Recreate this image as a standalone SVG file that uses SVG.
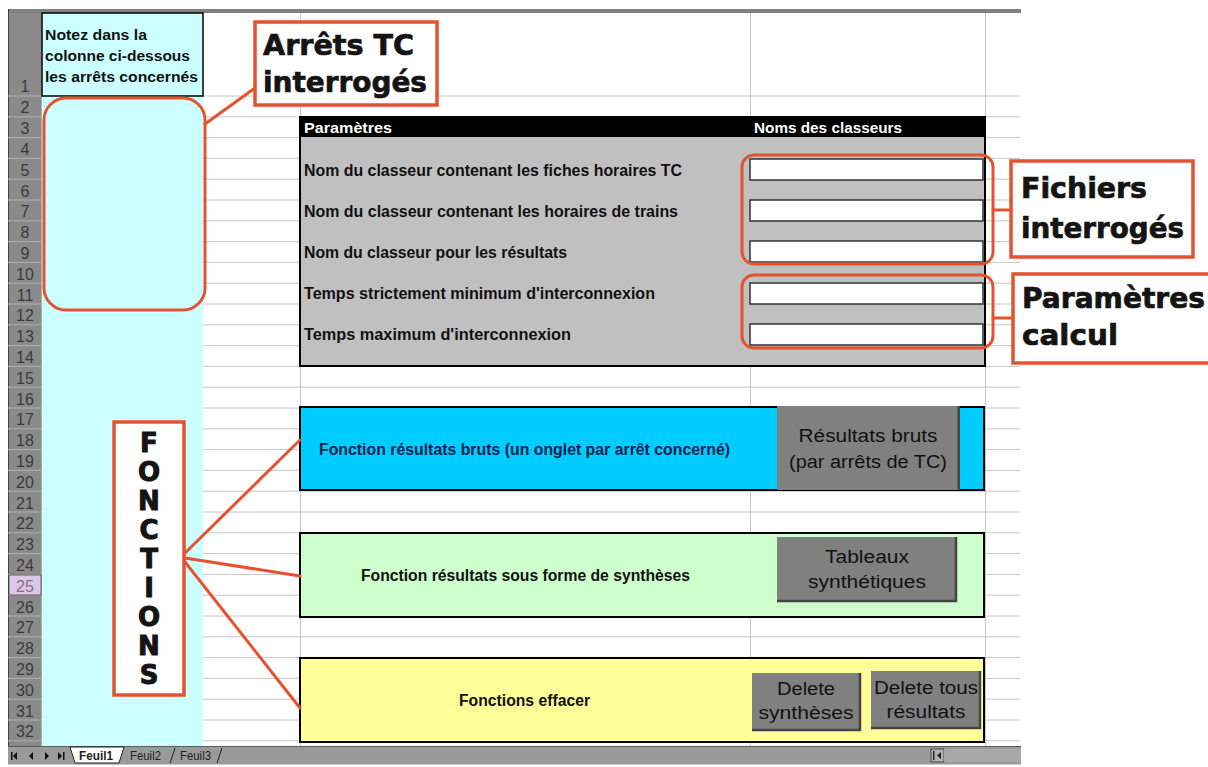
<svg xmlns="http://www.w3.org/2000/svg" width="1208" height="767" viewBox="0 0 1208 767">
<style>
.rn{font-family:"Liberation Sans",Arial,sans-serif;font-size:16px;fill:#3a3a3a;text-anchor:middle}
.lbl{font-family:"Liberation Sans",Arial,sans-serif;font-size:16px;font-weight:bold;fill:#111}
.hd{font-family:"Liberation Sans",Arial,sans-serif;font-size:15px;font-weight:bold;fill:#fff}
.a1{font-family:"Liberation Sans",Arial,sans-serif;font-size:14px;font-weight:bold;fill:#111}
.call{font-family:"DejaVu Sans",sans-serif;font-weight:bold;font-size:28px;fill:#141414;stroke:#141414;stroke-width:0.7}
.fl{font-family:"DejaVu Sans",sans-serif;font-weight:bold;font-size:26px;fill:#141414;stroke:#141414;stroke-width:1;text-anchor:middle}
.bt{font-family:"Liberation Sans",Arial,sans-serif;font-size:18px;fill:#111;text-anchor:middle}
.btn{fill:#808080}
.edge{fill:none;stroke:#444;stroke-width:2.5}
.or{fill:none;stroke:#e5522f;stroke-width:3}
.cbox{fill:#fff;stroke:#e5522f;stroke-width:3.5}
.grid{fill:none;stroke:#c6c6c6;stroke-width:1}
.inp{fill:#fff;stroke:#333;stroke-width:1.5}
.tab{font-family:"Liberation Sans",Arial,sans-serif;font-size:12px;fill:#222}
</style>

<g id="sheet">
  <rect x="0" y="0" width="1208" height="767" fill="#fff"/>
  <rect x="8" y="9" width="1013" height="4" fill="#808080"/>
  <rect x="8" y="13" width="34" height="734" fill="#8a8a8a"/>
  <line x1="8.5" y1="9" x2="8.5" y2="747" stroke="#404040" stroke-width="1"/>
  <rect x="42" y="13" width="161" height="734" fill="#ccffff"/>
  <path class="grid" d="M203 96H1020M203 116.8H1020M203 137.6H1020M203 158.4H1020M203 179.2H1020M203 200H1020M203 220.8H1020M203 241.6H1020M203 262.4H1020M203 283.2H1020M203 304H1020M203 324.8H1020M203 345.6H1020M203 366.4H1020M203 387.2H1020M203 408H1020M203 428.8H1020M203 449.6H1020M203 470.4H1020M203 491.2H1020M203 512H1020M203 532.8H1020M203 553.6H1020M203 574.4H1020M203 595.2H1020M203 616H1020M203 636.8H1020M203 657.6H1020M203 678.4H1020M203 699.2H1020M203 720H1020M203 740.8H1020"/>
  <path class="grid" d="M300.5 13V746M750.5 13V746M985.5 13V746"/>
  <path fill="none" stroke="#b0b0b0" stroke-width="1" d="M8 96H42M8 116.8H42M8 137.6H42M8 158.4H42M8 179.2H42M8 200H42M8 220.8H42M8 241.6H42M8 262.4H42M8 283.2H42M8 304H42M8 324.8H42M8 345.6H42M8 366.4H42M8 387.2H42M8 408H42M8 428.8H42M8 449.6H42M8 470.4H42M8 491.2H42M8 512H42M8 532.8H42M8 553.6H42M8 574.4H42M8 595.2H42M8 616H42M8 636.8H42M8 657.6H42M8 678.4H42M8 699.2H42M8 720H42M8 740.8H42"/>
  <line x1="41.5" y1="13" x2="41.5" y2="746" stroke="#b0b0b0"/>
  <rect x="9" y="575" width="32" height="20" fill="#dcc8e4" stroke="#503a5a" stroke-width="0.8"/>
  <g class="rn">
    <text x="25" y="92">1</text>
    <text x="25" y="113.3">2</text>
    <text x="25" y="134.1">3</text>
    <text x="25" y="154.9">4</text>
    <text x="25" y="175.7">5</text>
    <text x="25" y="196.5">6</text>
    <text x="25" y="217.3">7</text>
    <text x="25" y="238.1">8</text>
    <text x="25" y="258.9">9</text>
    <text x="25" y="279.7">10</text>
    <text x="25" y="300.5">11</text>
    <text x="25" y="321.3">12</text>
    <text x="25" y="342.1">13</text>
    <text x="25" y="362.9">14</text>
    <text x="25" y="383.7">15</text>
    <text x="25" y="404.5">16</text>
    <text x="25" y="425.3">17</text>
    <text x="25" y="446.1">18</text>
    <text x="25" y="466.9">19</text>
    <text x="25" y="487.7">20</text>
    <text x="25" y="508.5">21</text>
    <text x="25" y="529.3">22</text>
    <text x="25" y="550.1">23</text>
    <text x="25" y="570.9">24</text>
    <text x="25" y="591.7" fill="#8a6a92">25</text>
    <text x="25" y="612.5">26</text>
    <text x="25" y="633.3">27</text>
    <text x="25" y="654.1">28</text>
    <text x="25" y="674.9">29</text>
    <text x="25" y="695.7">30</text>
    <text x="25" y="716.5">31</text>
    <text x="25" y="737.3">32</text>
  </g>
</g>

<g id="cellA1">
  <rect x="42" y="13" width="161" height="83" fill="#ccffff" stroke="#000" stroke-width="1.5"/>
  <text class="a1" x="45" y="40" textLength="102" lengthAdjust="spacingAndGlyphs">Notez dans la</text>
  <text class="a1" x="45" y="61" textLength="145" lengthAdjust="spacingAndGlyphs">colonne ci-dessous</text>
  <text class="a1" x="45" y="82" textLength="153" lengthAdjust="spacingAndGlyphs">les arrêts concernés</text>
</g>

<g id="stops-zone">
  <rect class="or" x="44" y="98" width="161" height="212" rx="22"/>
</g>

<g id="params-table">
  <rect x="300" y="117" width="685" height="249" fill="#c0c0c0" stroke="#000" stroke-width="2"/>
  <rect x="300" y="117" width="685" height="20" fill="#000"/>
  <text class="hd" x="304" y="133" textLength="88" lengthAdjust="spacingAndGlyphs">Paramètres</text>
  <text class="hd" x="754" y="133" textLength="148" lengthAdjust="spacingAndGlyphs">Noms des classeurs</text>
  <text class="lbl" x="304" y="176" textLength="378" lengthAdjust="spacingAndGlyphs">Nom du classeur contenant les fiches horaires TC</text>
  <text class="lbl" x="304" y="217" textLength="374" lengthAdjust="spacingAndGlyphs">Nom du classeur contenant les horaires de trains</text>
  <text class="lbl" x="304" y="258" textLength="263" lengthAdjust="spacingAndGlyphs">Nom du classeur pour les résultats</text>
  <text class="lbl" x="304" y="299" textLength="351" lengthAdjust="spacingAndGlyphs">Temps strictement minimum d'interconnexion</text>
  <text class="lbl" x="304" y="340" textLength="267" lengthAdjust="spacingAndGlyphs">Temps maximum d'interconnexion</text>
  <rect class="inp" x="750" y="159" width="233" height="21"/>
  <rect class="inp" x="750" y="200" width="233" height="21"/>
  <rect class="inp" x="750" y="241" width="233" height="21"/>
  <rect class="inp" x="750" y="283" width="233" height="21"/>
  <rect class="inp" x="750" y="324" width="233" height="21"/>
  <rect class="or" x="742" y="155" width="251" height="109" rx="12"/>
  <rect class="or" x="742" y="275" width="251" height="73" rx="12"/>
</g>

<g id="callout-arrets">
  <rect class="cbox" x="255" y="22" width="182" height="83"/>
  <text class="call" x="263" y="55" textLength="151" lengthAdjust="spacingAndGlyphs">Arrêts TC</text>
  <text class="call" x="263" y="92" textLength="164" lengthAdjust="spacingAndGlyphs">interrogés</text>
</g>

<g id="callout-fichiers">
  <rect class="cbox" x="1011" y="161" width="182" height="96"/>
  <text class="call" x="1021" y="198" textLength="126" lengthAdjust="spacingAndGlyphs">Fichiers</text>
  <text class="call" x="1021" y="238" textLength="163" lengthAdjust="spacingAndGlyphs">interrogés</text>
</g>

<g id="callout-parametres">
  <rect class="cbox" x="1013" y="274" width="210" height="89"/>
  <text class="call" x="1022" y="308" textLength="183" lengthAdjust="spacingAndGlyphs">Paramètres</text>
  <text class="call" x="1022" y="345" textLength="96" lengthAdjust="spacingAndGlyphs">calcul</text>
</g>

<g id="bloc-bruts">
  <rect x="300" y="407" width="684" height="83" fill="#00ccff" stroke="#000" stroke-width="2"/>
  <text class="lbl" x="319" y="455" style="fill:#14244a" textLength="411" lengthAdjust="spacingAndGlyphs">Fonction résultats bruts (un onglet par arrêt concerné)</text>
  <rect class="btn" x="777" y="406" width="183" height="84"/>
  <path class="edge" d="M958.7 406V490"/>
  <text class="bt" x="868" y="442" textLength="139" lengthAdjust="spacingAndGlyphs">Résultats bruts</text>
  <text class="bt" x="868" y="468" textLength="158" lengthAdjust="spacingAndGlyphs">(par arrêts de TC)</text>
</g>

<g id="bloc-syntheses">
  <rect x="300" y="533" width="684" height="84" fill="#ccffcc" stroke="#000" stroke-width="2"/>
  <text class="lbl" x="361" y="581" textLength="329" lengthAdjust="spacingAndGlyphs">Fonction résultats sous forme de synthèses</text>
  <rect class="btn" x="777" y="537" width="180" height="65"/>
  <path class="edge" d="M777 601H956V537"/>
  <text class="bt" x="867" y="563" textLength="84" lengthAdjust="spacingAndGlyphs">Tableaux</text>
  <text class="bt" x="867" y="588" textLength="118" lengthAdjust="spacingAndGlyphs">synthétiques</text>
</g>

<g id="bloc-effacer">
  <rect x="300" y="658" width="684" height="84" fill="#ffff99" stroke="#000" stroke-width="2"/>
  <text class="lbl" x="459" y="706" textLength="131" lengthAdjust="spacingAndGlyphs">Fonctions effacer</text>
  <rect class="btn" x="752" y="673" width="109" height="58"/>
  <path class="edge" d="M752 730H860V673"/>
  <text class="bt" x="806" y="695" textLength="58" lengthAdjust="spacingAndGlyphs">Delete</text>
  <text class="bt" x="806" y="719" textLength="95" lengthAdjust="spacingAndGlyphs">synthèses</text>
  <rect class="btn" x="871" y="671" width="110" height="58"/>
  <path class="edge" d="M871 728H980V671"/>
  <text class="bt" x="926" y="694" textLength="104" lengthAdjust="spacingAndGlyphs">Delete tous</text>
  <text class="bt" x="926" y="718" textLength="79" lengthAdjust="spacingAndGlyphs">résultats</text>
</g>

<g id="fonctions-label">
  <rect class="cbox" x="114" y="422" width="70" height="273"/>
  <text class="fl" x="149" y="452">F</text>
  <text class="fl" x="149" y="481">O</text>
  <text class="fl" x="149" y="510">N</text>
  <text class="fl" x="149" y="539">C</text>
  <text class="fl" x="149" y="568">T</text>
  <text class="fl" x="149" y="597">I</text>
  <text class="fl" x="149" y="626">O</text>
  <text class="fl" x="149" y="655">N</text>
  <text class="fl" x="149" y="684">S</text>
</g>

<g id="connectors" stroke="#e5522f" stroke-width="3" fill="none" stroke-linecap="round">
  <line x1="205" y1="124" x2="255" y2="88"/>
  <line x1="993" y1="210" x2="1011" y2="210"/>
  <line x1="993" y1="318" x2="1013" y2="318"/>
  <line x1="185" y1="553" x2="300" y2="440"/>
  <line x1="185" y1="558" x2="300" y2="576"/>
  <line x1="185" y1="562" x2="300" y2="708"/>
</g>

<g id="tabbar">
  <rect x="8" y="746" width="1013" height="19" fill="#9a9a9a"/>
  <line x1="8" y1="746.5" x2="1021" y2="746.5" stroke="#5a5a5a"/>
  <line x1="8" y1="764.5" x2="1021" y2="764.5" stroke="#c8c8c8"/>
  <rect x="11" y="752" width="1.5" height="8" fill="#111"/>
  <path d="M17 752L13 756L17 760Z M33 752L29 756L33 760Z M45 752L49 756L45 760Z M58 752L62 756L58 760Z" fill="#111"/>
  <rect x="63" y="752" width="1.5" height="8" fill="#111"/>
  <path d="M70 747H124L119 763H75Z" fill="#fff" stroke="#222" stroke-width="1"/>
  <text class="tab" x="79" y="760" font-weight="bold" textLength="34" lengthAdjust="spacingAndGlyphs">Feuil1</text>
  <text class="tab" x="130" y="760" textLength="31" lengthAdjust="spacingAndGlyphs">Feuil2</text>
  <text class="tab" x="180" y="760" textLength="31" lengthAdjust="spacingAndGlyphs">Feuil3</text>
  <path d="M175 748L170 763M222 748L217 763" stroke="#222" stroke-width="1"/>
  <rect x="931" y="749" width="13" height="13" fill="#b0b0b0" stroke="#333" stroke-width="0.8"/>
  <rect x="933" y="751" width="1.5" height="9" fill="#222"/>
  <path d="M941 752L937 755.5L941 759Z" fill="#222"/>
  <rect x="944" y="749" width="77" height="13" fill="#a8a8a8"/>
</g>
</svg>
